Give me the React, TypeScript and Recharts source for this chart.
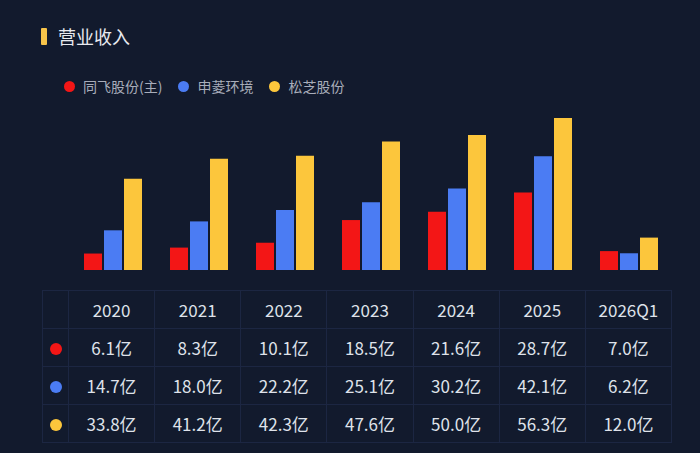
import { BarChart, Bar, XAxis, YAxis } from "recharts";

const years = ["2020", "2021", "2022", "2023", "2024", "2025", "2026Q1"];
const tongfei = [6.1, 8.3, 10.1, 18.5, 21.6, 28.7, 7.0];
const shenling = [14.7, 18.0, 22.2, 25.1, 30.2, 42.1, 6.2];
const songzhi = [33.8, 41.2, 42.3, 47.6, 50.0, 56.3, 12.0];
const seriesNames = ["同飞股份(主)", "申菱环境", "松芝股份"];
const colors = ["#f31616", "#4b7cf3", "#fcc63c"];

const data = years.map((y, i) => ({ name: y, a: tongfei[i], b: shenling[i], c: songzhi[i] }));
const rows = [tongfei, shenling, songzhi];

const font = "'Noto Sans CJK SC', 'Noto Sans', sans-serif";
const border = "1px solid #1c2642";

export default function App() {
  return (
    <div style={{ position: "fixed", left: 0, top: 0, width: 700, height: 453, background: "#121a2d", fontFamily: font, overflow: "hidden" }}>
      <div style={{ position: "absolute", left: 41, top: 28, width: 6, height: 17, background: "#f7c44a", borderRadius: 1 }} />
      <div style={{ position: "absolute", left: 58, top: 23, color: "#e8eaf0", fontSize: 18 }}>营业收入</div>
      <div style={{ position: "absolute", left: 64, top: 76, display: "flex", gap: 16, color: "#a8adba", fontSize: 14 }}>
        {seriesNames.map((n, i) => (
          <div key={n} style={{ display: "flex", alignItems: "center" }}>
            <span style={{ width: 11, height: 11, borderRadius: 6, background: colors[i], marginRight: 8 }} />
            {n}
          </div>
        ))}
      </div>
      <div style={{ position: "absolute", left: 70, top: 108 }}>
        <BarChart width={602} height={162} data={data} margin={{ top: 0, right: 0, bottom: 0, left: 0 }} barSize={18} barGap={2}>
          <XAxis dataKey="name" hide />
          <YAxis hide domain={[0, 60]} />
          <Bar dataKey="a" fill={colors[0]} isAnimationActive={false} />
          <Bar dataKey="b" fill={colors[1]} isAnimationActive={false} />
          <Bar dataKey="c" fill={colors[2]} isAnimationActive={false} />
        </BarChart>
      </div>
      <table style={{ position: "absolute", left: 42, top: 290, width: 630, borderCollapse: "collapse", color: "#dfe2ea", fontSize: 17, textAlign: "center", tableLayout: "fixed" }}>
        <colgroup>
          <col style={{ width: 26 }} />
          {years.map((y) => <col key={y} />)}
        </colgroup>
        <tbody>
          <tr style={{ height: 38 }}>
            <td style={{ border }} />
            {years.map((y) => <td key={y} style={{ border }}>{y}</td>)}
          </tr>
          {rows.map((r, i) => (
            <tr key={i} style={{ height: 38 }}>
              <td style={{ border }}>
                <span style={{ display: "inline-block", width: 12, height: 12, borderRadius: 6, background: colors[i] }} />
              </td>
              {r.map((v, j) => <td key={j} style={{ border }}>{v.toFixed(1)}亿</td>)}
            </tr>
          ))}
        </tbody>
      </table>
    </div>
  );
}
